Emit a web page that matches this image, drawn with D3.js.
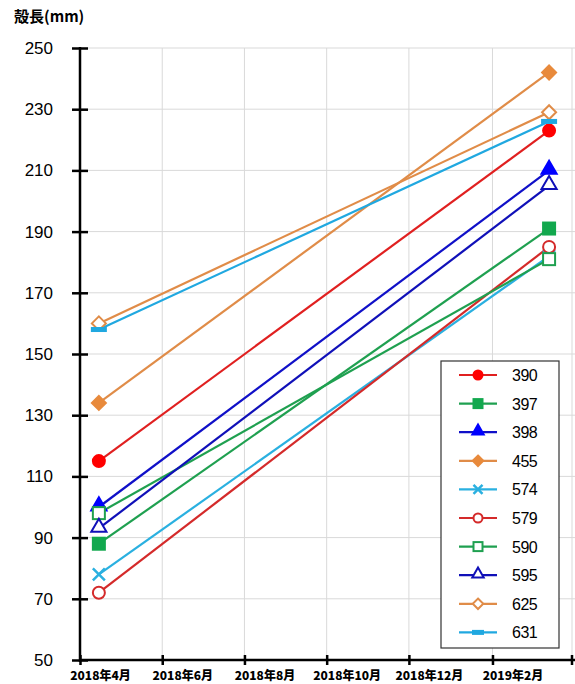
<!DOCTYPE html>
<html>
<head>
<meta charset="utf-8">
<script src="https://cdn.jsdelivr.net/npm/d3@7"></script>
<style>
  body { margin: 0; background: #fff; }
  svg { display: block; }
</style>
</head>
<body>
<svg id="chart" width="575" height="684"></svg>
<script>
// 殻長 chart - two measurements per individual

var dates = ["2018-04-15", "2019-03-15"];
var ids = ["390", "397", "398", "455", "574", "579", "590", "595", "625", "631"];
var startVals = [115, 88, 100, 134, 78, 72, 98, 93, 160, 158];
var endVals = [223, 191, 210, 242, 182, 185, 181, 205, 229, 226];
var yTicks = [50, 70, 90, 110, 130, 150, 170, 190, 210, 230, 250];

var colors = {
  "390": "#e02020", "397": "#1fa050", "398": "#1010c8", "455": "#e08c48", "574": "#2ab0e0",
  "579": "#d42a2a", "590": "#1fa050", "595": "#1010b8", "625": "#e08c48", "631": "#20a8e0"
};
var markerFill = { "390": "#ff0000", "397": "#12a84e", "398": "#0000ff", "455": "#e88a3c" };
var shapes = {
  "390": "circle", "397": "square", "398": "triangle", "455": "diamond", "574": "cross",
  "579": "circle", "590": "square", "595": "triangle", "625": "diamond", "631": "dash"
};

var svg = d3.select('#chart');
var mLeft = 80, mRight = 572, mTop = 48, mBottom = 660;
var parse = d3.timeParse("%Y-%m-%d");

var x = d3.scaleTime()
  .domain([new Date(2018, 3, 1), new Date(2019, 3, 1)])
  .range([mLeft, mRight]);
var y = d3.scaleLinear().domain([50, 250]).range([mBottom, mTop]);

// grid
svg.append("g")
  .selectAll("line").data(yTicks.slice(1)).enter().append("line")
    .attr("x1", mLeft).attr("x2", 575)
    .attr("y1", function(d) { return y(d); }).attr("y2", function(d) { return y(d); })
    .attr("stroke", "#d9d9d9").attr("stroke-width", 1);
var xTicks = d3.timeMonth.range(new Date(2018, 3, 1), new Date(2019, 3, 2), 2);
svg.append("g")
  .selectAll("line").data(xTicks.slice(1)).enter().append("line")
    .attr("x1", function(d) { return x(d); }).attr("x2", function(d) { return x(d); })
    .attr("y1", mTop).attr("y2", mBottom)
    .attr("stroke", "#d9d9d9").attr("stroke-width", 1);

// axes
var yAxis = svg.append("g")
  .attr("transform", "translate(" + mLeft + ",0)")
  .call(d3.axisLeft(y).tickValues(yTicks).tickSize(8).tickPadding(19));
yAxis.select(".domain").attr("stroke", "#000").attr("stroke-width", 2.5).attr("d", "M0," + (mTop - 1) + "V" + (mBottom + 2));
yAxis.selectAll(".tick line").attr("x1", -8).attr("x2", 8).attr("stroke-width", 2.5);
yAxis.selectAll("text")
  .style("font-family", "Liberation Sans, Arial, sans-serif")
  .style("font-size", "17px").attr("fill", "#000");

var xAxis = svg.append("g")
  .attr("transform", "translate(0," + mBottom + ")")
  .call(d3.axisBottom(x).tickValues(xTicks.slice(0, 6))
    .tickFormat(function(d) { return d.getFullYear() + "年" + (d.getMonth() + 1) + "月"; })
    .tickSize(5).tickPadding(4));
xAxis.select(".domain").attr("stroke", "#000").attr("stroke-width", 2.5).attr("d", "M" + mLeft + ",0H575");
xAxis.selectAll(".tick line").attr("y1", -5).attr("y2", 5).attr("stroke-width", 2.5);
xAxis.selectAll("text")
  .attr("x", 20).attr("dy", "0.95em")
  .style("font-family", "Noto Sans CJK JP, sans-serif")
  .style("font-weight", "900").style("font-size", "12px").attr("fill", "#000");
// last tick mark (no label)
xAxis.append("line").attr("x1", x(xTicks[6])).attr("x2", x(xTicks[6]))
  .attr("y1", -5).attr("y2", 5).attr("stroke", "#000").attr("stroke-width", 2.5);

// title
svg.append("text").attr("x", 14).attr("y", 22)
  .style("font-family", "Noto Sans CJK JP, sans-serif")
  .style("font-weight", "bold").style("font-size", "15px")
  .text("殻長(mm)");

function drawMarker(g, id, cx, cy, scale) {
  var s = shapes[id], c = colors[id];
  var filled = markerFill[id] !== undefined;
  var fill = filled ? markerFill[id] : "#fff";
  var k = scale || 1;
  if (s === "circle") {
    g.append("circle").attr("cx", cx).attr("cy", cy).attr("r", 6 * k)
      .attr("fill", fill).attr("stroke", filled ? fill : c).attr("stroke-width", 2);
  } else if (s === "square") {
    g.append("rect").attr("x", cx - 6 * k).attr("y", cy - 6 * k).attr("width", 12 * k).attr("height", 12 * k)
      .attr("fill", fill).attr("stroke", filled ? fill : c).attr("stroke-width", 2);
  } else if (s === "triangle") {
    g.append("path").attr("d", d3.symbol().type(d3.symbolTriangle).size(100 * k * k)())
      .attr("transform", "translate(" + cx + "," + (cy - 1) + ")")
      .attr("fill", fill).attr("stroke", filled ? fill : c).attr("stroke-width", 2);
  } else if (s === "diamond") {
    var r = 7 * k;
    g.append("path").attr("d", "M" + cx + "," + (cy - r) + "L" + (cx + r) + "," + cy + "L" + cx + "," + (cy + r) + "L" + (cx - r) + "," + cy + "Z")
      .attr("fill", fill).attr("stroke", filled ? fill : c).attr("stroke-width", 2);
  } else if (s === "cross") {
    var r2 = 6 * k;
    g.append("path").attr("d", "M" + (cx - r2) + "," + (cy - r2) + "L" + (cx + r2) + "," + (cy + r2) + "M" + (cx - r2) + "," + (cy + r2) + "L" + (cx + r2) + "," + (cy - r2))
      .attr("stroke", c).attr("stroke-width", 2.5);
  } else if (s === "dash") {
    g.append("rect").attr("x", cx - 8 * k).attr("y", cy - 2.5).attr("width", 16 * k).attr("height", 5)
      .attr("fill", c);
  }
}

// series
var series = ids.map(function(id, i) {
  return { id: id, values: [
    { date: parse(dates[0]), v: startVals[i] },
    { date: parse(dates[1]), v: endVals[i] }
  ] };
});

var line = d3.line().x(function(d) { return x(d.date); }).y(function(d) { return y(d.v); });
var plot = svg.append("g");
series.forEach(function(s) {
  plot.append("path").attr("d", line(s.values))
    .attr("fill", "none").attr("stroke", colors[s.id]).attr("stroke-width", 2.2);
});
series.forEach(function(s) {
  s.values.forEach(function(d) { drawMarker(plot, s.id, x(d.date), y(d.v)); });
});

// legend
var lg = svg.append("g");
lg.append("rect").attr("x", 441).attr("y", 361).attr("width", 118).attr("height", 287)
  .attr("fill", "#fff").attr("stroke", "#333").attr("stroke-width", 1.2);
ids.forEach(function(id, i) {
  var ly = 375 + i * 28.6;
  lg.append("line").attr("x1", 459).attr("x2", 497).attr("y1", ly).attr("y2", ly)
    .attr("stroke", colors[id]).attr("stroke-width", 2.2);
  drawMarker(lg, id, 478, ly, 0.75);
  lg.append("text").attr("x", 512).attr("y", ly + 6)
    .style("font-family", "Liberation Sans Narrow, Liberation Sans, Arial, sans-serif")
    .style("font-size", "16px").attr("letter-spacing", "-0.5")
    .text(id);
});
</script>
</body>
</html>
